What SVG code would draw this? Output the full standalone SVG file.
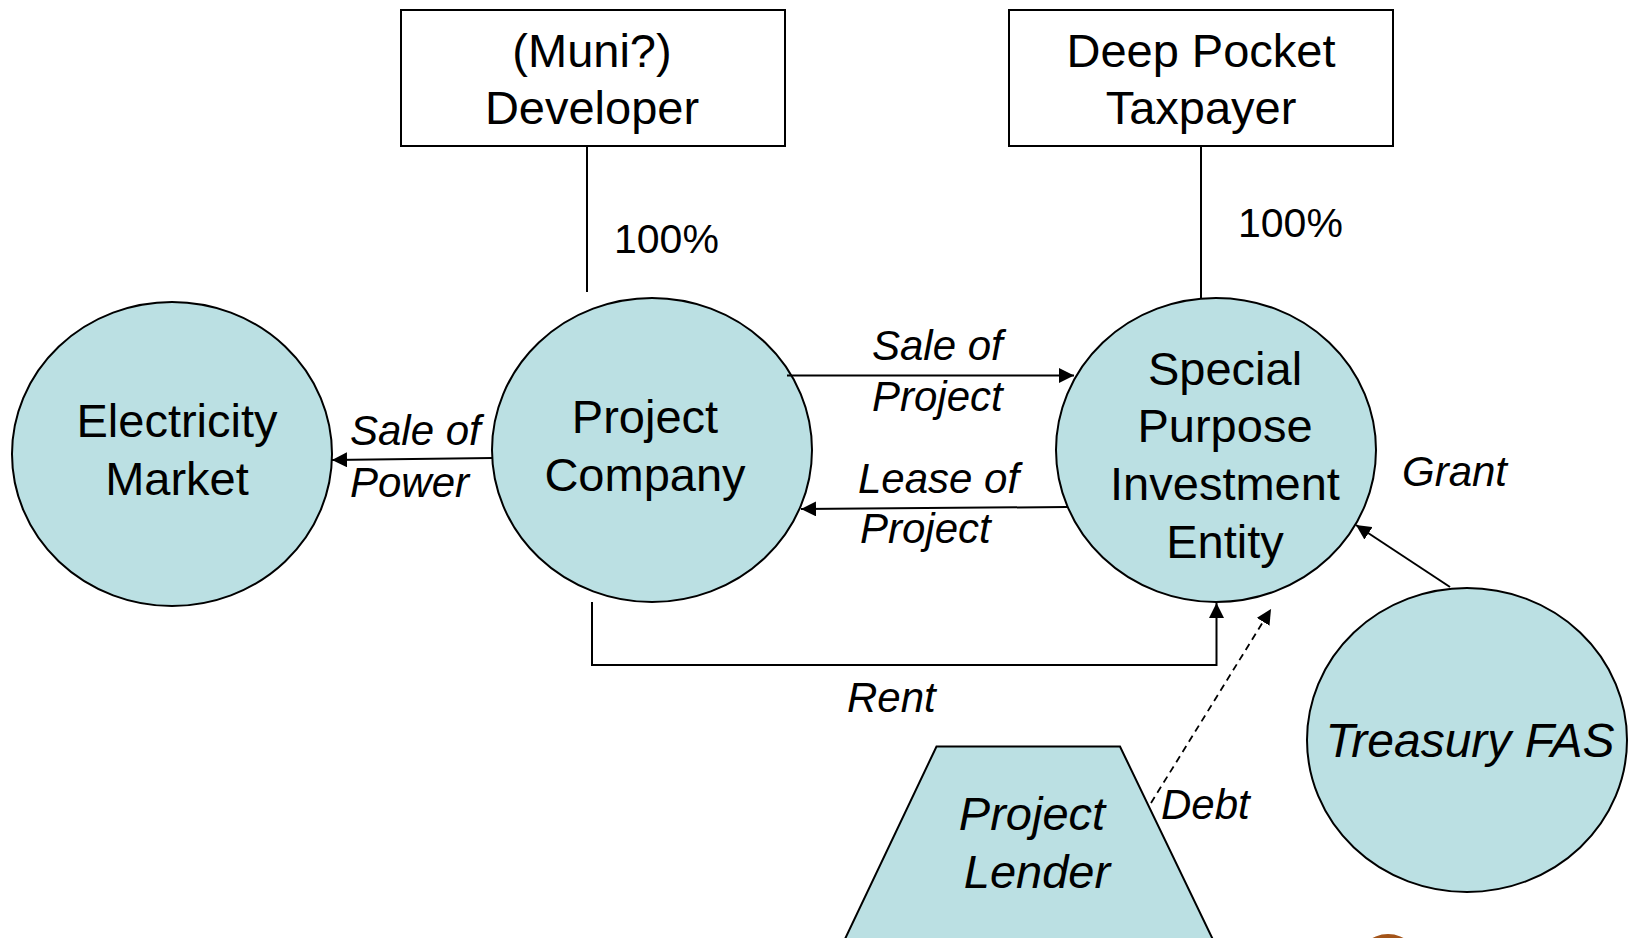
<svg xmlns="http://www.w3.org/2000/svg" width="1635" height="938" viewBox="0 0 1635 938">
<style>
.n{fill:#BBE0E3;stroke:#000;stroke-width:2}
.b{fill:#fff;stroke:#000;stroke-width:2}
.t{font-family:"Liberation Sans",Arial,sans-serif;font-size:47px;fill:#000;text-anchor:middle}
.i{font-family:"Liberation Sans",Arial,sans-serif;font-size:42px;font-style:italic;fill:#000}
.p{font-family:"Liberation Sans",Arial,sans-serif;font-size:41px;fill:#000}
.c{fill:none;stroke:#000;stroke-width:2}
</style>
<defs>
<marker id="ah" markerWidth="15" markerHeight="15" refX="15" refY="7.5" orient="auto" markerUnits="userSpaceOnUse">
<path d="M0,0 L15,7.5 L0,15 Z" fill="#000"/>
</marker>
</defs>
<rect width="1635" height="938" fill="#fff"/>
<g id="developer">
<rect class="b" x="401" y="10" width="384" height="136"/>
<text class="t" x="592" y="67">(Muni?)</text>
<text class="t" x="592" y="124">Developer</text>
</g>
<g id="taxpayer">
<rect class="b" x="1009" y="10" width="384" height="136"/>
<text class="t" x="1201" y="67">Deep Pocket</text>
<text class="t" x="1201" y="124">Taxpayer</text>
</g>
<g id="electricity-market">
<ellipse class="n" cx="172" cy="454" rx="160" ry="152"/>
<text class="t" x="177" y="437">Electricity</text>
<text class="t" x="177" y="495">Market</text>
</g>
<g id="project-company">
<ellipse class="n" cx="652" cy="450" rx="160" ry="152"/>
<text class="t" x="645" y="433">Project</text>
<text class="t" x="645" y="491">Company</text>
</g>
<g id="spie">
<ellipse class="n" cx="1216" cy="450" rx="160" ry="152"/>
<text class="t" x="1225" y="385">Special</text>
<text class="t" x="1225" y="442">Purpose</text>
<text class="t" x="1225" y="500">Investment</text>
<text class="t" x="1225" y="558">Entity</text>
</g>
<g id="treasury-fas">
<ellipse class="n" cx="1467" cy="740" rx="160" ry="152"/>
<text class="t" x="1470" y="757" style="font-style:italic;font-size:48px">Treasury FAS</text>
</g>
<g id="project-lender">
<polygon class="n" points="936.5,746.5 1120,746.5 1242,1000 816,1000"/>
<text class="t" x="1032" y="830" font-style="italic">Project</text>
<text class="t" x="1037" y="888" font-style="italic">Lender</text>
</g>
<g id="connectors">
<line class="c" x1="587" y1="146" x2="587" y2="292"/>
<line class="c" x1="1201" y1="146" x2="1201" y2="298"/>
<line class="c" x1="787" y1="375.5" x2="1074" y2="375.5" marker-end="url(#ah)"/>
<line class="c" x1="1067" y1="507" x2="801" y2="509" marker-end="url(#ah)"/>
<line class="c" x1="493" y1="458" x2="332" y2="460" marker-end="url(#ah)"/>
<polyline class="c" points="592,602 592,665 1216.5,665 1216.5,603" marker-end="url(#ah)"/>
<line class="c" x1="1450" y1="587" x2="1356" y2="525" marker-end="url(#ah)"/>
<line x1="1151" y1="803" x2="1271" y2="609" stroke="#000" stroke-width="1.8" stroke-dasharray="7,5" marker-end="url(#ah)"/>
</g>
<g id="labels">
<text class="p" x="614" y="253">100%</text>
<text class="p" x="1238" y="237">100%</text>
<text class="i" x="872" y="360">Sale of</text>
<text class="i" x="872" y="411">Project</text>
<text class="i" x="858" y="493">Lease of</text>
<text class="i" x="860" y="543">Project</text>
<text class="i" x="350" y="445">Sale of</text>
<text class="i" x="350" y="497">Power</text>
<text class="i" x="847" y="712">Rent</text>
<text class="i" x="1161" y="819">Debt</text>
<text class="i" x="1402" y="486">Grant</text>
</g>
<circle cx="1388" cy="966" r="32" fill="#A35419"/>
</svg>
